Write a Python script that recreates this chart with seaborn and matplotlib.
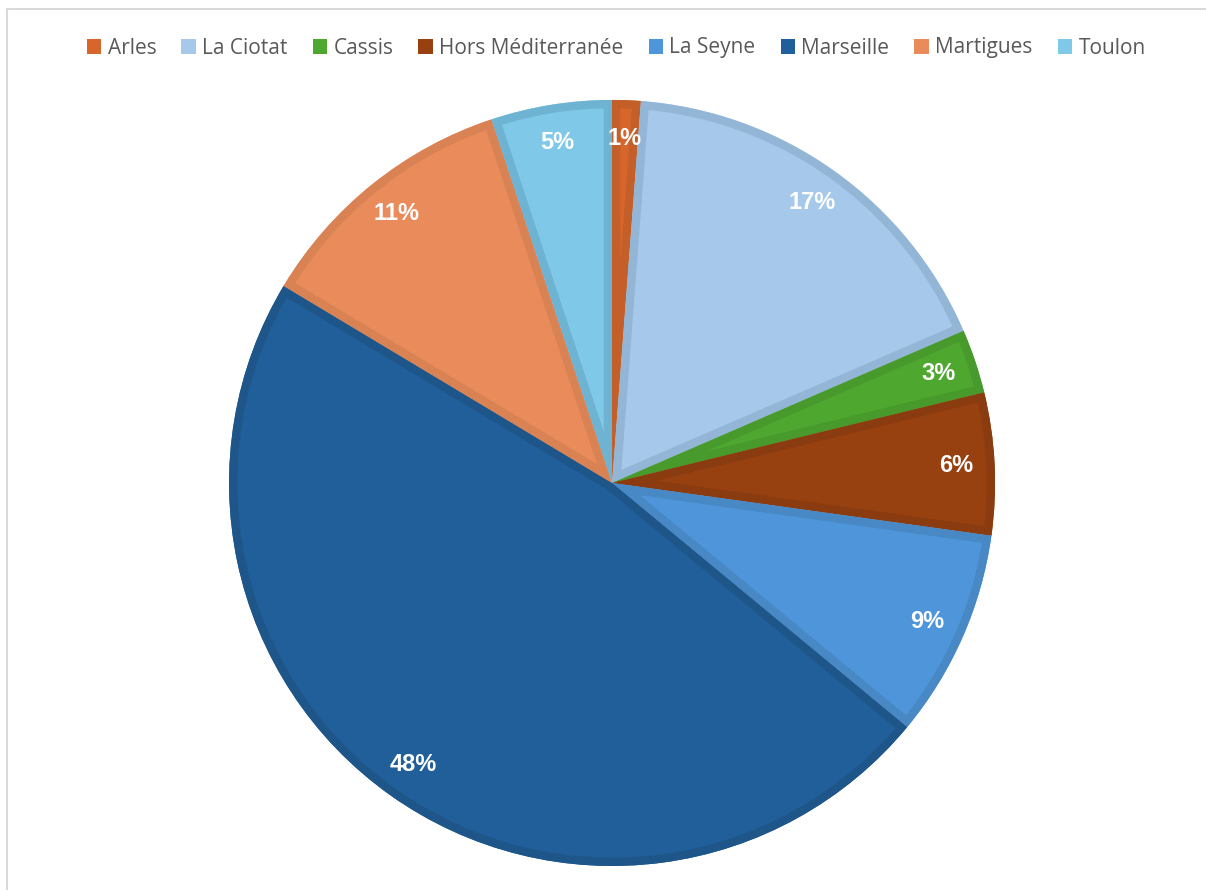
import numpy as np
import matplotlib
matplotlib.use("Agg")
import matplotlib.pyplot as plt
import seaborn as sns
from matplotlib.patches import Wedge
from matplotlib.lines import Line2D

# Style
sns.set_style("white")
plt.rcParams['font.family'] = ['Open Sans', 'DejaVu Sans']

# ============================================
# DONNEES
# ============================================
villes = ['Arles', 'La Ciotat', 'Cassis', 'Hors Méditerranée',
          'La Seyne', 'Marseille', 'Martigues', 'Toulon']
parts = [1.2, 17.3, 2.7, 6.0, 8.8, 47.6, 11.3, 5.1]
couleurs = ['#D6662B', '#A6C8EA', '#4EA72E', '#974010',
            '#4E95D9', '#215F9A', '#E98B5A', '#80C8E8']
bordures = ['#C45F29', '#93B5D6', '#479A2B', '#8A3B10',
            '#4788C5', '#1F568A', '#D98253', '#6FB3D2']

# ============================================
# GRAPHIQUE
# ============================================
fig = plt.figure(figsize=(12.06, 8.90), dpi=100)
ax = fig.add_axes([0.1899, 0.0270, 0.6352, 0.8607])

palette = sns.color_palette(couleurs)
wedges, texts, autotexts = ax.pie(
    parts, colors=palette, startangle=90, counterclock=False,
    autopct='%1.0f%%', pctdistance=0.9, radius=1,
    wedgeprops=dict(linewidth=0),
    textprops=dict(color='white', fontsize=17, fontweight='bold',
                   family=['Liberation Sans', 'DejaVu Sans']))
ax.set_xlim(-1, 1)
ax.set_ylim(-1, 1)
ax.set_aspect('equal')
ax.axis('off')

# bordure interne plus sombre de chaque part
for w, bc in zip(wedges, bordures):
    b = Wedge(w.center, w.r, w.theta1, w.theta2, facecolor='none',
              edgecolor=bc, linewidth=12, zorder=w.get_zorder() + 0.5)
    ax.add_patch(b)
    b.set_clip_path(w)
for t in autotexts:
    t.set_zorder(5)

# légende
fig.legend(wedges, villes, loc='center', ncol=8,
           bbox_to_anchor=(0.511, 1 - 48 / 890), frameon=False,
           fontsize=15, labelcolor='#595959',
           handlelength=0.7, handleheight=0.7, handletextpad=0.3,
           columnspacing=1.2)

# cadre gris
fig.add_artist(Line2D([7 / 1206, 7 / 1206], [0, 1 - 9 / 890],
                      transform=fig.transFigure, color='#D9D9D9', lw=1.5))
fig.add_artist(Line2D([7 / 1206, 1], [1 - 9 / 890, 1 - 9 / 890],
                      transform=fig.transFigure, color='#D9D9D9', lw=1.5))

fig.savefig('out.png', dpi=100)
